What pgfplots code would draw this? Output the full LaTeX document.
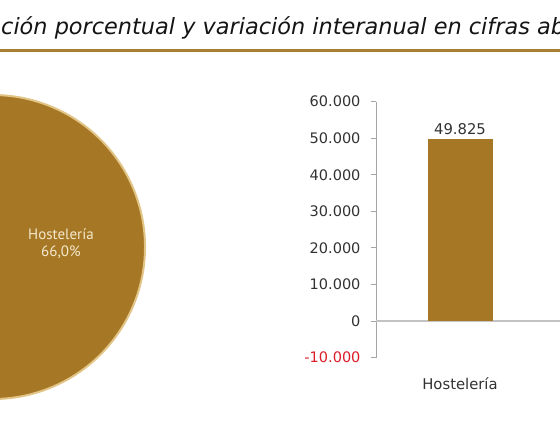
\documentclass[border=0pt]{standalone}
\usepackage{pgfplots}
\pgfplotsset{compat=1.18}
\usepackage{fontspec}
\setmainfont{DejaVu Sans}
\newfontfamily\piefont{PT Sans}
\definecolor{gold}{RGB}{166,120,38}
\definecolor{goldline}{RGB}{168,128,52}
\definecolor{pieedge}{RGB}{226,196,134}
\definecolor{pieother}{RGB}{200,170,110}
\definecolor{cream}{RGB}{245,232,205}
\definecolor{titlecol}{RGB}{20,20,20}
\definecolor{ticktext}{RGB}{50,50,50}
\definecolor{axisgray}{RGB}{165,165,165}
\definecolor{zerogray}{RGB}{195,195,195}
\definecolor{negred}{RGB}{220,30,40}
\begin{document}
\begin{tikzpicture}[x=1pt,y=1pt]
\path[use as bounding box] (0,0) rectangle (560,445);
\clip (0,0) rectangle (560,445);
% title (cropped)
\node[anchor=base west, inner sep=0pt, font=\fontsize{22.4}{26}\selectfont\itshape, text=titlecol] at (1,410) {ción porcentual y variación interanual en cifras absolutas};
\node[anchor=base east, inner sep=0pt, font=\fontsize{22.4}{26}\selectfont\itshape, text=titlecol] at (1,410) {Distribu};
\draw[goldline, line width=3pt] (0,394.5) -- (560,394.5);
% pie chart
\begin{axis}[at={(-7pt,198pt)}, anchor=center, scale only axis, width=304pt, height=304pt,
  hide axis, xmin=-1, xmax=1, ymin=-1, ymax=1, clip=false]
\fill[pieother, draw=pieedge, line width=2pt] (axis cs:0,0) -- (axis cs:{cos(118.8)},{sin(118.8)}) arc[start angle=118.8, end angle=241.2, radius=152pt] -- cycle;
\fill[gold, draw=pieedge, line width=2pt] (axis cs:0,0) -- (axis cs:{cos(-118.8)},{sin(-118.8)}) arc[start angle=-118.8, end angle=118.8, radius=152pt] -- cycle;
\node[align=center, text=cream, font=\piefont\fontsize{15}{17}\selectfont] at (axis cs:0.447,0.023) {Hostelería\\66,0\%};
\end{axis}
% bar chart
\begin{axis}[at={(376pt,87.3pt)}, anchor=south west, scale only axis, width=336pt, height=256pt,
  xmin=-0.5, xmax=1.5, ymin=-10000, ymax=60000,
  axis lines*=left,
  x axis line style={draw=none},
  y axis line style={axisgray, line width=1pt},
  ytick={-10000,0,10000,20000,30000,40000,50000,60000},
  yticklabels={{\textcolor{negred}{-10.000}},0,10.000,20.000,30.000,40.000,50.000,60.000},
  scaled y ticks=false,
  xtick={0}, xticklabels={Hostelería},
  xtick style={draw=none},
  ytick style={axisgray, line width=1pt},
  tick align=outside, major tick length=5pt,
  yticklabel style={text=ticktext, font=\fontsize{14.5}{16}\selectfont, xshift=-7pt},
  xticklabel style={text=ticktext, font=\fontsize{14.8}{16}\selectfont, yshift=-11pt},
  extra y ticks={0}, extra y tick labels={},
  extra y tick style={grid=major, major grid style={zerogray, line width=1.5pt}},
  /pgf/number format/.cd, 1000 sep={.}, assume math mode=true,
  ]
\addplot[ybar, bar width=65pt, fill=gold, draw=none,
  nodes near coords, nodes near coords align={vertical},
  every node near coord/.append style={text=ticktext, font=\fontsize{14.8}{16}\selectfont, yshift=1pt}]
  coordinates {(0,49825)};
\end{axis}
\end{tikzpicture}
\end{document}
